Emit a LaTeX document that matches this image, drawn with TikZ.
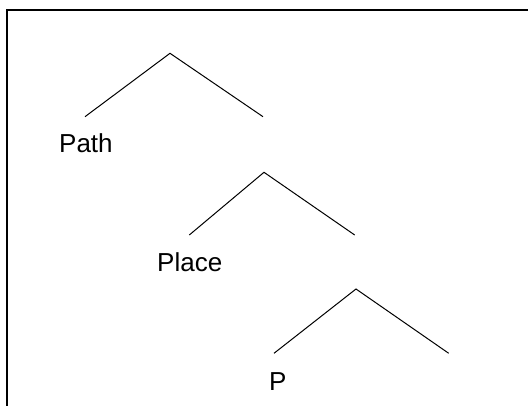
\documentclass[tikz,border=0pt]{standalone}
\usepackage{fontspec}
\setmainfont{Liberation Sans}
\begin{document}
\begin{tikzpicture}[x=1pt,y=-1pt,
  branch/.style={draw=black,line width=1pt,line join=miter},
  frame/.style={draw=black,line width=2pt},
  lbl/.style={anchor=base west,inner sep=0pt,font=\fontsize{26}{30}\selectfont}]
\useasboundingbox (0,0) rectangle (528,406);
\clip (0,0) rectangle (528,406);
\draw[frame] (7,10) rectangle (540,420);
% tree 1
\coordinate (a1) at (170,53.3);
\coordinate (l1) at (85,116.7);
\coordinate (r1) at (263,116.7);
\draw[branch] (l1) -- (a1) -- (r1);
\node[lbl] (path) at (59,153) {Path};
% tree 2
\coordinate (a2) at (264,172.3);
\coordinate (l2) at (189.3,235);
\coordinate (r2) at (354.7,235);
\draw[branch] (l2) -- (a2) -- (r2);
\node[lbl] (place) at (157,272) {Place};
% tree 3
\coordinate (a3) at (356,289);
\coordinate (l3) at (274,353.3);
\coordinate (r3) at (448.7,353.3);
\draw[branch] (l3) -- (a3) -- (r3);
\node[lbl] (p) at (269,391) {P};
\end{tikzpicture}
\end{document}
